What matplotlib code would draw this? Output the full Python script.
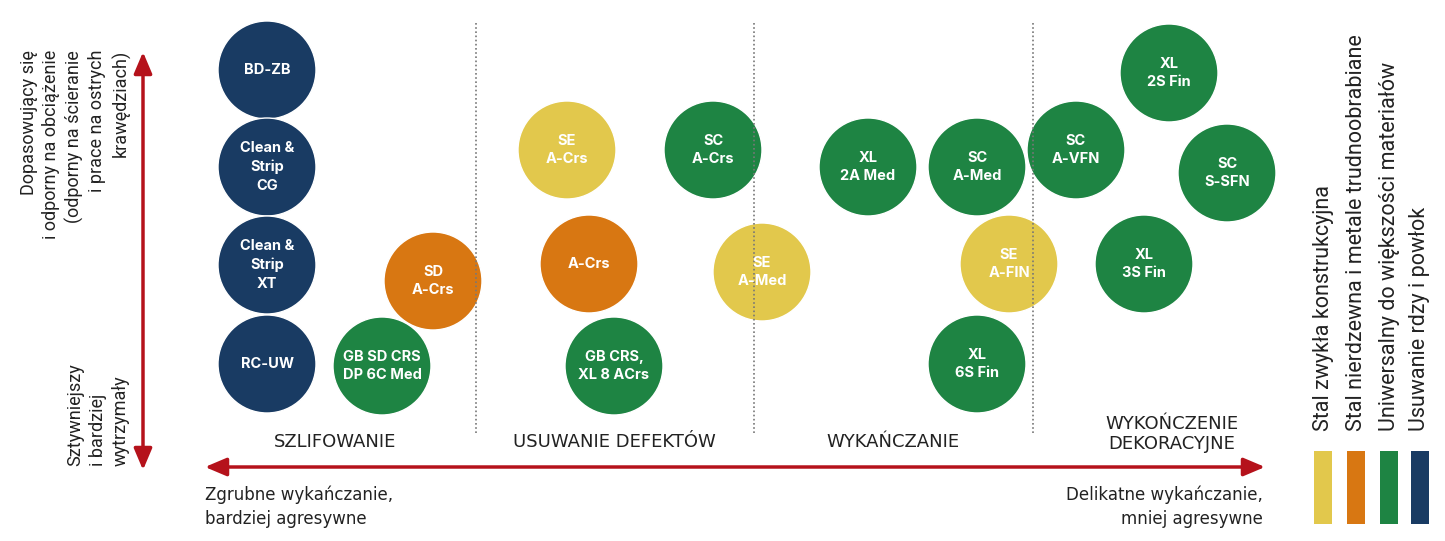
import matplotlib
matplotlib.use('Agg')
import matplotlib.pyplot as plt
from matplotlib.patches import Circle, Rectangle

# kolory grup
colors = {
    'rdza': '#193b63',
    'uniw': '#1e8443',
    'nierdz': '#d87712',
    'stal': '#e2c84c',
}

# produkty: etykieta, x (agresywnosc), y (sztywnosc), grupa
labels = ["BD-ZB", "Clean &\nStrip\nCG", "Clean &\nStrip\nXT", "RC-UW",
          "SD\nA-Crs", "GB SD CRS\nDP 6C Med",
          "SE\nA-Crs", "A-Crs", "GB CRS,\nXL 8 ACrs", "SC\nA-Crs", "SE\nA-Med",
          "XL\n2A Med", "SC\nA-Med", "SE\nA-FIN", "XL\n6S Fin",
          "SC\nA-VFN", "XL\n2S Fin", "SC\nS-SFN", "XL\n3S Fin"]
pos_x = [267, 267, 267, 267, 433, 382, 567, 589, 614, 713, 762,
         868, 977, 1009, 977, 1076, 1169, 1227, 1144]
pos_y = [70, 167, 265, 364, 281, 366, 150, 264, 366, 150, 272,
         167, 167, 264, 364, 150, 73, 173, 264]
groups = ['rdza', 'rdza', 'rdza', 'rdza', 'nierdz', 'uniw',
          'stal', 'nierdz', 'uniw', 'uniw', 'stal',
          'uniw', 'uniw', 'stal', 'uniw', 'uniw', 'uniw', 'uniw', 'uniw']

sections = ["SZLIFOWANIE", "USUWANIE DEFEKTÓW", "WYKAŃCZANIE", "WYKOŃCZENIE\nDEKORACYJNE"]
section_x = [335, 614, 893, 1172]
dividers = [476, 754, 1033]

legend_labels = ["Stal zwykła konstrukcyjna",
                 "Stal nierdzewna i metale trudnoobrabiane",
                 "Uniwersalny do większości materiałów",
                 "Usuwanie rdzy i powłok"]
legend_groups = ['stal', 'nierdz', 'uniw', 'rdza']
legend_x = [1323, 1356, 1389, 1420]

red = '#b5121b'
txt = '#222222'
narrow = ['Liberation Sans Narrow', 'DejaVu Sans']
plain = ['Roboto', 'DejaVu Sans']

fig = plt.figure(figsize=(14.45, 5.41), dpi=100)
ax = fig.add_axes([0, 0, 1, 1])
ax.set_xlim(0, 1445)
ax.set_ylim(541, 0)
ax.set_aspect('equal')
ax.axis('off')

# kółka
for lab, cx, cy, g in zip(labels, pos_x, pos_y, groups):
    ax.add_patch(Circle((cx, cy), 49, facecolor=colors[g], edgecolor='white', lw=1, zorder=2))
    ax.text(cx, cy, lab, ha='center', va='center', color='white', fontsize=10.5,
            fontweight='bold', family=['Inter', 'DejaVu Sans'], linespacing=1.38, zorder=4)

# linie kropkowane
for dx in dividers:
    ax.plot([dx, dx], [23, 435], ls=(0, (1, 1.5)), color='#777777', lw=1.2, zorder=3)

# nazwy sekcji
for s, sx in zip(sections, section_x):
    yy = 434 if '\n' in s else 442
    ax.text(sx, yy, s, ha='center', va='center', fontsize=13, color=txt,
            family=narrow, linespacing=1.15)

# strzalki
ax.annotate('', xy=(143, 52), xytext=(143, 470),
            arrowprops=dict(arrowstyle='<|-|>,head_length=1.3,head_width=0.55',
                            mutation_scale=10, color=red, lw=2.5, shrinkA=0, shrinkB=0))
ax.annotate('', xy=(1265, 467), xytext=(205, 467),
            arrowprops=dict(arrowstyle='<|-|>,head_length=1.3,head_width=0.55',
                            mutation_scale=10, color=red, lw=2.5, shrinkA=0, shrinkB=0))

# opisy osi
ax.text(75, 50, "Dopasowujący się\ni odporny na obciążenie\n(odporny na ścieranie\ni prace na ostrych\nkrawędziach)",
        rotation=90, ha='center', va='top', multialignment='right', fontsize=13,
        color=txt, family=plain, linespacing=1.32)
ax.text(98, 466, "Sztywniejszy\ni bardziej\nwytrzymały",
        rotation=90, ha='center', va='bottom', multialignment='left', fontsize=13,
        color=txt, family=plain, linespacing=1.32)
ax.text(205, 507, "Zgrubne wykańczanie,\nbardziej agresywne", ha='left', va='center',
        fontsize=12, color=txt, family=narrow, linespacing=1.45)
ax.text(1263, 507, "Delikatne wykańczanie,\nmniej agresywne", ha='right', va='center',
        multialignment='right', fontsize=12, color=txt, family=narrow, linespacing=1.45)

# legenda
for lab, g, lx in zip(legend_labels, legend_groups, legend_x):
    ax.add_patch(Rectangle((lx - 9, 451), 18, 73, facecolor=colors[g], edgecolor='none'))
    ax.text(lx, 431, lab, rotation=90, ha='center', va='bottom', fontsize=15.5,
            color=txt, family=plain)

fig.savefig('out.png', dpi=100)
